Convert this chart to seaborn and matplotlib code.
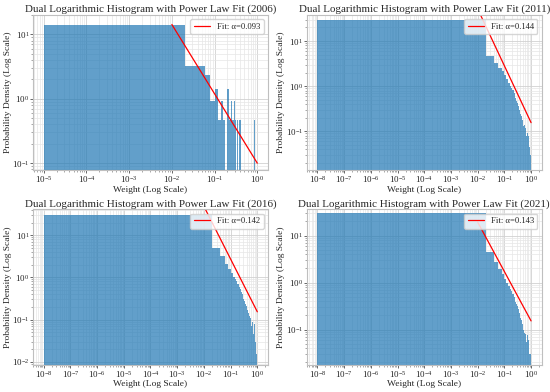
import numpy as np
import matplotlib
matplotlib.use('Agg')
import matplotlib.pyplot as plt
from matplotlib.ticker import LogLocator
import seaborn as sns

# Data (density per linear bin, 50 bins from min weight to 1)
years = [2006, 2011, 2016, 2021]
alphas = [0.093, 0.144, 0.142, 0.143]
w_min = [1e-5, 1e-8, 1e-8, 1e-8]
w_max = 1.0
n_bins = 50

dens_2006 = [14.0, 3.27, 3.27, 2.33, 0.93, 1.4, 0.47, 0.93, 0.47, 0.0,
             1.4, 0.47, 0.93, 0.47, 0.93, 0.47, 0.0, 0.47, 0.0, 0.47,
             0.47, 0.0, 0.0, 0.0, 0.0, 0.0, 0.0, 0.0, 0.0, 0.0,
             0.0, 0.0, 0.0, 0.0, 0.0, 0.0, 0.0, 0.0, 0.0, 0.0,
             0.0, 0.0, 0.47, 0.47, 0.0, 0.0, 0.0, 0.0, 0.0, 0.47]
dens_2011 = [30.0, 4.6, 3.3, 2.55, 2.15, 1.75, 1.42, 1.2, 1.03, 0.92,
             0.82, 0.72, 0.62, 0.55, 0.48, 0.42, 0.37, 0.33, 0.3, 0.27,
             0.24, 0.22, 0.2, 0.18, 0.16, 0.15, 0.13, 0.12, 0.14, 0.1,
             0.12, 0.09, 0.11, 0.08, 0.1, 0.07, 0.09, 0.06, 0.11, 0.055,
             0.08, 0.05, 0.13, 0.045, 0.07, 0.04, 0.05, 0.03, 0.025, 0.02]
dens_2016 = [30.0, 5.1, 3.3, 2.1, 1.6, 1.25, 1.05, 0.9, 0.8, 0.7,
             0.6, 0.52, 0.46, 0.4, 0.35, 0.31, 0.28, 0.25, 0.23, 0.21,
             0.19, 0.17, 0.15, 0.14, 0.13, 0.12, 0.1, 0.11, 0.08, 0.095,
             0.07, 0.085, 0.06, 0.09, 0.05, 0.07, 0.045, 0.06, 0.04, 0.08,
             0.035, 0.05, 0.03, 0.045, 0.02, 0.04, 0.015, 0.03, 0.013, 2.6]
dens_2021 = [30.0, 4.5, 2.7, 1.9, 1.5, 1.2, 1.0, 0.85, 0.74, 0.65,
             0.56, 0.5, 0.44, 0.39, 0.35, 0.31, 0.27, 0.25, 0.22, 0.2,
             0.18, 0.16, 0.15, 0.13, 0.12, 0.11, 0.1, 0.09, 0.085, 0.075,
             0.08, 0.065, 0.07, 0.055, 0.06, 0.05, 0.075, 0.045, 0.05, 0.04,
             0.06, 0.035, 0.045, 0.03, 0.04, 0.025, 0.035, 0.03, 0.027, 2.6]
densities = [dens_2006, dens_2011, dens_2016, dens_2021]

# Power law fit line: value at x=0.01 and at x=1
fit_x = [0.01, 1.0]
fit_y = [[14.2, 0.10], [51.7, 0.156], [48.4, 0.153], [19.3, 0.153]]

ylims = [(0.077, 20), (0.0136, 38), (0.0084, 41), (0.0177, 36)]

sns.set_style('whitegrid')
plt.rcParams['font.family'] = ['Liberation Serif', 'DejaVu Serif']
plt.rcParams['mathtext.fontset'] = 'stix'
plt.rcParams['xtick.bottom'] = True
plt.rcParams['ytick.left'] = True

fig, axes = plt.subplots(2, 2, figsize=(5.5, 3.92), dpi=100)
fig.subplots_adjust(left=0.06, right=0.985, top=0.962, bottom=0.069,
                    wspace=0.165, hspace=0.25)

for ax, year, a, wmin, dens, fy, yl in zip(axes.flat, years, alphas, w_min,
                                           densities, fit_y, ylims):
    width = (w_max - wmin) / n_bins
    centers = wmin + (np.arange(n_bins) + 0.5) * width
    sns.histplot(x=centers, weights=dens, bins=n_bins, binrange=(wmin, w_max),
                 color='#1f77b4', alpha=0.7, linewidth=0, ax=ax)
    sns.lineplot(x=fit_x, y=fy, color='red', linewidth=0.9,
                 label=f'Fit: α={a:.3f}', ax=ax)
    ax.set_xscale('log')
    ax.set_yscale('log')
    ax.set_ylim(*yl)
    ax.xaxis.set_major_locator(LogLocator(base=10, numticks=20))
    ax.xaxis.set_minor_locator(LogLocator(base=10, subs=np.arange(2, 10), numticks=20))

    ax.grid(True, which='major', color='.82', linewidth=0.6)
    ax.grid(True, which='minor', color='.9', linewidth=0.5)
    for s in ax.spines.values():
        s.set_color('.75')
        s.set_linewidth(0.8)
    ax.tick_params(which='major', labelsize=6.5, length=2, width=0.6, pad=0.6, color='.3')
    ax.tick_params(which='minor', length=1.2, width=0.4, color='.4')

    ax.set_title(f'Dual Logarithmic Histogram with Power Law Fit ({year})',
                 fontsize=7.9, pad=2)
    ax.set_xlabel('Weight (Log Scale)', fontsize=6.8, labelpad=0.5)
    ax.set_ylabel('Probability Density (Log Scale)', fontsize=6.8, labelpad=0.3)
    ax.legend(loc='upper right', fontsize=6.2, handlelength=1.9,
              borderpad=0.4, framealpha=0.8)

plt.savefig('out.png', dpi=100)
